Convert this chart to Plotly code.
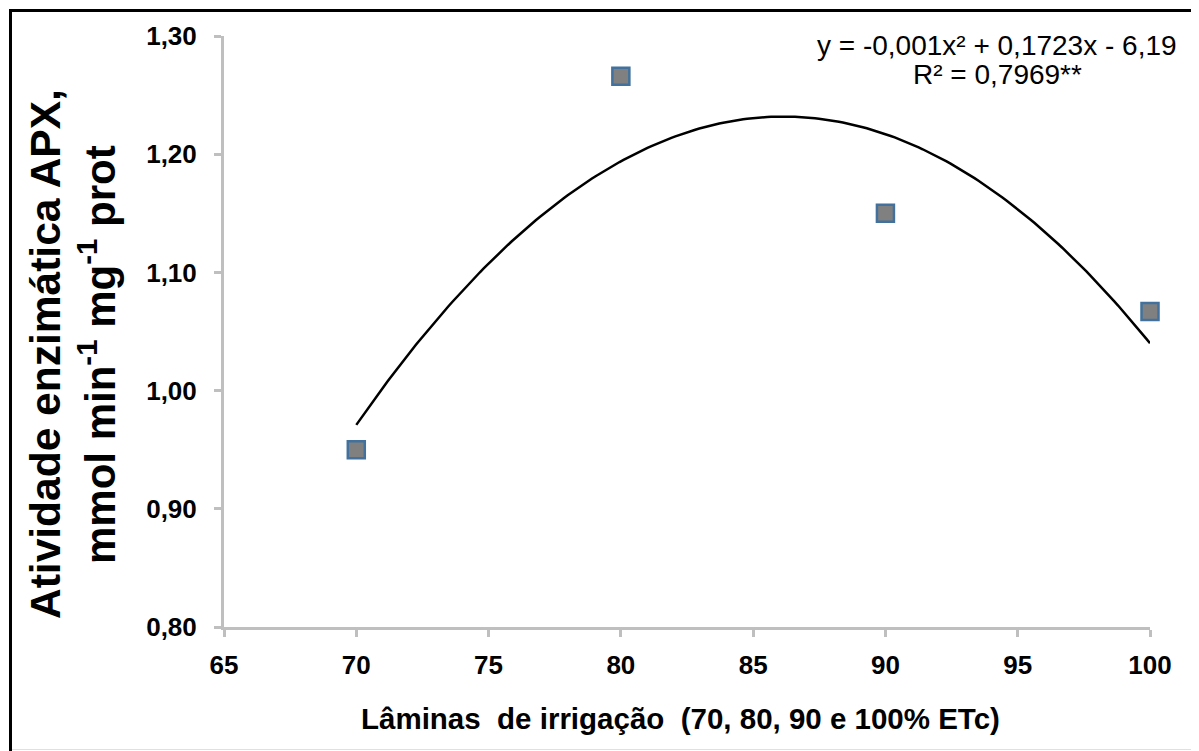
import numpy as np
import plotly.graph_objects as go

# Data
laminas = [70, 80, 90, 100]
apx = [0.950, 1.266, 1.150, 1.067]
fit_coef = [-0.001, 0.1723, -6.19]  # a, b, c of y = a x^2 + b x + c
x_ticks = [65, 70, 75, 80, 85, 90, 95, 100]
y_ticks = [0.80, 0.90, 1.00, 1.10, 1.20, 1.30]
y_ticklabels = ["0,80", "0,90", "1,00", "1,10", "1,20", "1,30"]

OFF = 8  # page body margin
W, H = 1199 - OFF, 751 - OFF
# plot area in screen pixels: x 224..1150, y 36..627
L, R, T, B = 224 - OFF, W - (1150 - OFF), 36 - OFF, H - (627 - OFF)
PW, PH = W - L - R, H - T - B


def px(xs):
    return (xs - OFF - L) / PW


def py(ys):
    return (H - B - (ys - OFF)) / PH


xf = np.linspace(laminas[0], laminas[-1], 200)
yf = np.polyval(fit_coef, xf)

fig = go.Figure()
fig.add_trace(go.Scatter(x=xf, y=yf, mode="lines",
                         line=dict(color="black", width=2.5),
                         cliponaxis=False, showlegend=False, hoverinfo="skip"))
fig.add_trace(go.Scatter(x=laminas, y=apx, mode="markers",
                         marker=dict(symbol="square", size=17, color="#808080",
                                     line=dict(color="#41719C", width=2.5)),
                         cliponaxis=False, showlegend=False))

axis_common = dict(showline=True, linecolor="#BFBFBF", linewidth=3,
                   ticks="outside", tickcolor="#BFBFBF", tickwidth=3, ticklen=7,
                   showgrid=False, zeroline=False,
                   tickfont=dict(family="Liberation Sans, Arial", size=26, color="black",
                                 weight="bold"))

fig.update_xaxes(range=[65, 100], tickvals=x_ticks, ticktext=[str(v) for v in x_ticks],
                 ticklabelstandoff=6, **axis_common)
fig.update_yaxes(range=[0.8, 1.3], tickvals=y_ticks, ticktext=y_ticklabels,
                 ticklabelstandoff=12, **axis_common)

font_b = "Liberation Sans, Arial"
ann = []
# y-axis title (two lines)
ann.append(dict(x=px(45), y=py(354), xref="paper", yref="paper", textangle=-90,
                text="<b>Atividade enzimática APX,</b>", showarrow=False,
                font=dict(family=font_b, size=42.5, color="black"),
                xanchor="center", yanchor="middle"))
ann.append(dict(x=px(97), y=py(355), xref="paper", yref="paper", textangle=-90,
                text="<b>mmol min<sup>-1</sup> mg<sup>-1</sup> prot</b>", showarrow=False,
                font=dict(family=font_b, size=42, color="black"),
                xanchor="center", yanchor="middle"))
# x-axis title
ann.append(dict(x=px(680), y=py(718), xref="paper", yref="paper",
                text="<b>Lâminas\u00a0 de irrigação\u00a0 (70, 80, 90 e 100% ETc)</b>",
                showarrow=False, font=dict(family=font_b, size=29.5, color="black"),
                xanchor="center", yanchor="middle"))
# equation
ann.append(dict(x=px(997), y=py(45), xref="paper", yref="paper",
                text="y = -0,001x² + 0,1723x - 6,19", showarrow=False,
                font=dict(family=font_b, size=28, color="black"),
                xanchor="center", yanchor="middle"))
ann.append(dict(x=px(997), y=py(75), xref="paper", yref="paper",
                text="R² = 0,7969**", showarrow=False,
                font=dict(family=font_b, size=28, color="black"),
                xanchor="center", yanchor="middle"))

shapes = [
    dict(type="line", xref="paper", yref="paper", x0=px(10.5), x1=px(10.5),
         y0=py(9), y1=py(751), line=dict(color="black", width=3)),
    dict(type="line", xref="paper", yref="paper", x0=px(9), x1=px(1199),
         y0=py(10.5), y1=py(10.5), line=dict(color="black", width=3)),
    dict(type="line", xref="paper", yref="paper", x0=px(12), x1=px(1199),
         y0=py(749.5), y1=py(749.5), line=dict(color="#E0E0E0", width=1)),
]

fig.update_layout(width=W, height=H, margin=dict(l=L, r=R, t=T, b=B),
                  paper_bgcolor="white", plot_bgcolor="white",
                  annotations=ann, shapes=shapes, showlegend=False)

fig.write_html("out.html")
